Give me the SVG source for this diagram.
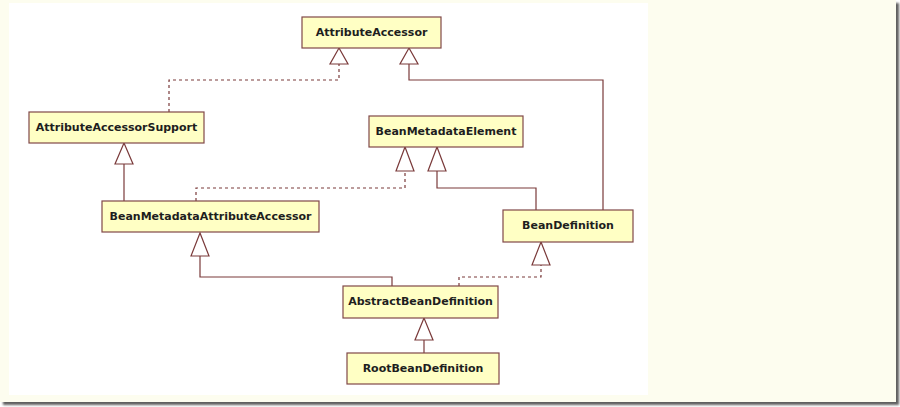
<svg xmlns="http://www.w3.org/2000/svg" width="900" height="407" viewBox="0 0 900 407">
<defs>
<style>
.box{fill:#ffffc4;stroke:#804848;stroke-width:1.2}
.lbl{font-family:"DejaVu Sans",Verdana,sans-serif;font-weight:bold;font-size:11px;fill:#1e1e1e;text-anchor:middle}
.ln{fill:none;stroke:#7a3a3a;stroke-width:1.2}
.dash{stroke-dasharray:3,3}
.tri{fill:#ffffff;stroke:#7a3a3a;stroke-width:1.2}
</style>
<filter id="sh" x="-5%" y="-5%" width="110%" height="110%"><feGaussianBlur stdDeviation="0.8"/></filter>
</defs>
<rect x="0" y="0" width="900" height="407" fill="#ffffff"/>
<rect x="3" y="3" width="896" height="402" fill="#606060" filter="url(#sh)"/>
<rect x="0" y="0" width="896" height="402" fill="#fdfdef"/>
<rect x="9" y="3" width="639" height="392" fill="#ffffff"/>
<g id="connectors">
<polyline class="ln dash" points="169,112 169,80 339,80 339,64"/>
<polyline class="ln" points="603,210 603,80 409,80 409,64"/>
<polyline class="ln" points="124,201 124,164"/>
<polyline class="ln dash" points="196,201 196,188 405,188 405,171"/>
<polyline class="ln" points="536,210 536,188 437,188 437,171"/>
<polyline class="ln dash" points="459,286 459,277 541,277 541,265"/>
<polyline class="ln" points="392,286 392,277 200,277 200,256"/>
<polyline class="ln" points="424,353 424,340"/>
<polygon class="tri" points="339,48 330,64 348,64"/>
<polygon class="tri" points="409,48 400,64 418,64"/>
<polygon class="tri" points="124,143 115,164 133,164"/>
<polygon class="tri" points="405,147 396,171 414,171"/>
<polygon class="tri" points="437,147 428,171 446,171"/>
<polygon class="tri" points="541,242 532,265 550,265"/>
<polygon class="tri" points="200,233 191,256 209,256"/>
<polygon class="tri" points="424,318 415,340 433,340"/>
</g>
<g id="AttributeAccessor"><rect class="box" x="302" y="17" width="139" height="31"/><text class="lbl" x="371.5" y="36">AttributeAccessor</text></g>
<g id="AttributeAccessorSupport"><rect class="box" x="29" y="112" width="175" height="31"/><text class="lbl" x="116.5" y="131">AttributeAccessorSupport</text></g>
<g id="BeanMetadataElement"><rect class="box" x="369" y="116" width="154" height="31"/><text class="lbl" x="446" y="135">BeanMetadataElement</text></g>
<g id="BeanMetadataAttributeAccessor"><rect class="box" x="102" y="201" width="217" height="31"/><text class="lbl" x="210.5" y="220">BeanMetadataAttributeAccessor</text></g>
<g id="BeanDefinition"><rect class="box" x="503" y="210" width="130" height="32"/><text class="lbl" x="568" y="229">BeanDefinition</text></g>
<g id="AbstractBeanDefinition"><rect class="box" x="343" y="286" width="155" height="32"/><text class="lbl" x="420.5" y="305">AbstractBeanDefinition</text></g>
<g id="RootBeanDefinition"><rect class="box" x="347" y="353" width="152" height="31"/><text class="lbl" x="423" y="372">RootBeanDefinition</text></g>
</svg>
